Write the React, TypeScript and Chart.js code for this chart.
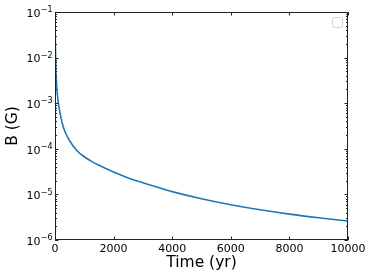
import { useEffect, useRef } from 'react';
import { Chart, registerables } from 'chart.js';

Chart.register(...registerables);

// Data
const times = [0, 10, 25, 50, 100, 180, 300, 500, 750, 1000, 1250, 1500, 2000, 2500, 3000, 3500, 4000, 5000, 6000, 7000, 8000, 9000, 10000];
const fieldB = [1e-1, 2.5e-2, 8e-3, 2.9e-3, 1.2e-3, 5.7e-4, 2.8e-4, 1.5e-4, 9.1e-5, 6.7e-5, 5.3e-5, 4.35e-5, 3.1e-5, 2.3e-5, 1.8e-5, 1.43e-5, 1.15e-5, 8.0e-6, 5.95e-6, 4.6e-6, 3.7e-6, 3.07e-6, 2.6e-6];

const xTickValues = [0, 2000, 4000, 6000, 8000, 10000];
const xTickLabels = ['0', '2000', '4000', '6000', '8000', '10000'];
const yTickValues = [1e-6, 1e-5, 1e-4, 1e-3, 1e-2, 1e-1];
const yTickBase = '10';
const yTickExponents = ['\u22126', '\u22125', '\u22124', '\u22123', '\u22122', '\u22121'];
const xTitle = 'Time (yr)';
const yTitle = 'B (G)';

const FONT = '"DejaVu Sans", sans-serif';

const framePlugin = {
  id: 'frameTicks',
  afterDraw(chart: any) {
    const { ctx, chartArea, scales } = chart;
    const { left, right, top, bottom } = chartArea;
    const xs = scales.x;
    const ys = scales.y;
    ctx.save();
    ctx.strokeStyle = '#222';
    ctx.lineWidth = 1;
    ctx.strokeRect(left + 0.5, top + 0.5, right - left - 1, bottom - top - 1);
    ctx.beginPath();
    const major = 3.5;
    const minor = 2;
    xTickValues.forEach((v) => {
      const px = Math.round(xs.getPixelForValue(v)) + 0.5;
      ctx.moveTo(px, bottom);
      ctx.lineTo(px, bottom - major);
      ctx.moveTo(px, top);
      ctx.lineTo(px, top + major);
    });
    yTickValues.forEach((v, i) => {
      const py = Math.round(ys.getPixelForValue(v)) + 0.5;
      ctx.moveTo(left, py);
      ctx.lineTo(left + major, py);
      ctx.moveTo(right, py);
      ctx.lineTo(right - major, py);
      if (i < yTickValues.length - 1) {
        for (let m = 2; m <= 9; m++) {
          const pm = Math.round(ys.getPixelForValue(v * m)) + 0.5;
          ctx.moveTo(left, pm);
          ctx.lineTo(left + minor, pm);
          ctx.moveTo(right, pm);
          ctx.lineTo(right - minor, pm);
        }
      }
    });
    ctx.stroke();

    // y tick labels with superscript exponents
    ctx.fillStyle = '#000';
    ctx.textAlign = 'right';
    ctx.textBaseline = 'alphabetic';
    const labelRight = left - 2.5;
    yTickValues.forEach((v, i) => {
      const py = ys.getPixelForValue(v);
      ctx.font = `8px ${FONT}`;
      const expText = yTickExponents[i];
      const ew = ctx.measureText(expText).width;
      ctx.fillText(expText, labelRight, py + 0.2);
      ctx.font = `11px ${FONT}`;
      ctx.fillText(yTickBase, labelRight - ew - 0.3, py + 4.7);
    });

    // empty legend box
    const bx = right - 15.5;
    const by = top + 5.5;
    ctx.strokeStyle = '#d4d4d4';
    ctx.beginPath();
    if (ctx.roundRect) ctx.roundRect(bx, by, 10, 10, 2);
    else ctx.rect(bx, by, 10, 10);
    ctx.stroke();
    ctx.restore();
  },
};

export default function App() {
  const ref = useRef<HTMLCanvasElement>(null);
  useEffect(() => {
    document.body.style.margin = '0';
    const canvas = ref.current;
    if (!canvas) return;
    const chart = new Chart(canvas, {
      type: 'line',
      data: {
        datasets: [
          {
            data: times.map((t, i) => ({ x: t, y: fieldB[i] })),
            borderColor: '#1f77b4',
            borderWidth: 1.6,
            pointRadius: 0,
            fill: false,
            cubicInterpolationMode: 'monotone',
          },
        ],
      },
      options: {
        animation: false,
        responsive: false,
        devicePixelRatio: 1,
        layout: { padding: { top: 12, right: 26, left: 0, bottom: 0 } },
        plugins: { legend: { display: false }, tooltip: { enabled: false } },
        scales: {
          x: {
            type: 'linear',
            min: 0,
            max: 10000,
            grid: { display: false, drawTicks: false },
            border: { display: false },
            afterBuildTicks: (s: any) => {
              s.ticks = xTickValues.map((v) => ({ value: v }));
            },
            afterFit: (s: any) => {
              s.height = 40;
            },
            ticks: {
              autoSkip: false,
              maxRotation: 0,
              padding: 3,
              color: '#000',
              font: { family: FONT, size: 11 },
              callback: (_v: any, i: number) => xTickLabels[i],
            },
            title: {
              display: true,
              text: xTitle,
              color: '#000',
              font: { family: FONT, size: 15.5 },
              padding: { top: 0, bottom: 8 },
            },
          },
          y: {
            type: 'logarithmic',
            min: 1e-6,
            max: 1e-1,
            grid: { display: false, drawTicks: false },
            border: { display: false },
            afterBuildTicks: (s: any) => {
              s.ticks = yTickValues.map((v) => ({ value: v, major: true }));
            },
            afterFit: (s: any) => {
              s.width = 55;
            },
            ticks: {
              display: false,
            },
            title: {
              display: true,
              text: yTitle,
              color: '#000',
              font: { family: FONT, size: 15.5 },
              padding: { top: 4, bottom: 0 },
            },
          },
        },
      },
      plugins: [framePlugin],
    } as any);
    return () => chart.destroy();
  }, []);
  return (
    <div style={{ width: 374, height: 280 }}>
      <canvas ref={ref} width={374} height={280} style={{ display: 'block', width: 374, height: 280 }} />
    </div>
  );
}
